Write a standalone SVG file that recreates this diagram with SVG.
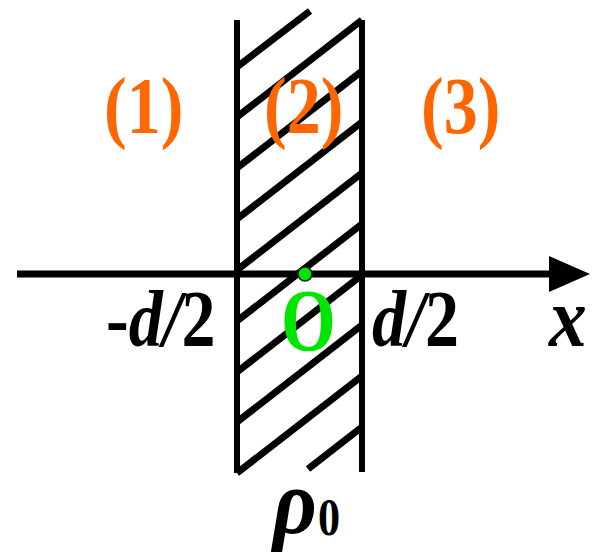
<svg xmlns="http://www.w3.org/2000/svg" width="598" height="557" viewBox="0 0 598 557">
<style>
.ln{stroke:#000;stroke-width:7;fill:none;stroke-linecap:butt}
.wall{stroke:#000;stroke-width:6;fill:none}
.lbl{font-family:"Liberation Serif","Times New Roman",serif;font-weight:bold;fill:#FF6600;font-size:80px}
.mt{font-family:"Liberation Serif","Times New Roman",serif;font-weight:bold;fill:#000;font-size:80px}
.it{font-style:italic}
.org{font-family:"Liberation Serif","Times New Roman",serif;font-weight:bold;fill:#00E600;font-size:88px}
</style>
<g id="slab">
<line class="wall" x1="237" y1="20" x2="237" y2="473"/>
<line class="wall" x1="362" y1="20" x2="362" y2="472"/>
<g id="hatch">
<line class="ln" x1="237" y1="67" x2="310" y2="11"/>
<line class="ln" x1="362" y1="20" x2="237" y2="117"/>
<line class="ln" x1="362" y1="71" x2="237" y2="168"/>
<line class="ln" x1="362" y1="122" x2="237" y2="219"/>
<line class="ln" x1="362" y1="173" x2="237" y2="270"/>
<line class="ln" x1="362" y1="224" x2="237" y2="321"/>
<line class="ln" x1="362" y1="275" x2="237" y2="372"/>
<line class="ln" x1="362" y1="325" x2="237" y2="422"/>
<line class="ln" x1="362" y1="376" x2="237" y2="473"/>
<line class="ln" x1="362" y1="427" x2="308" y2="469"/>
</g>
</g>
<g id="connectors">
<line class="ln" x1="17" y1="274" x2="552" y2="274"/>
<polygon points="590,274 549,256 549,292" fill="#000"/>
</g>
<g id="origin">
<circle cx="305" cy="274" r="7" fill="#00E600" stroke="#222" stroke-width="1.5"/>
<text class="org" transform="translate(281,350) scale(0.8,1)">O</text>
</g>
<g id="region1"><text class="lbl" transform="translate(104,133) scale(0.85,1)">(1)</text></g>
<g id="region2"><text class="lbl" transform="translate(264,133) scale(0.85,1)">(2)</text></g>
<g id="region3"><text class="lbl" transform="translate(421,133) scale(0.85,1)">(3)</text></g>
<g id="label-left"><text class="mt" transform="translate(106,346) scale(0.85,1)">-<tspan class="it">d/</tspan>2</text></g>
<g id="label-right"><text class="mt" transform="translate(372,346) scale(0.85,1)"><tspan class="it">d/</tspan>2</text></g>
<g id="label-x"><text class="mt it" transform="translate(549,346) scale(0.9,1)" style="font-size:84px">x</text></g>
<g id="label-rho">
<text class="mt it" transform="translate(273,533) scale(0.95,1)" style="font-size:90px">ρ</text>
<text class="mt" transform="translate(318,535) scale(0.85,1)" style="font-size:52px">0</text>
</g>
</svg>
